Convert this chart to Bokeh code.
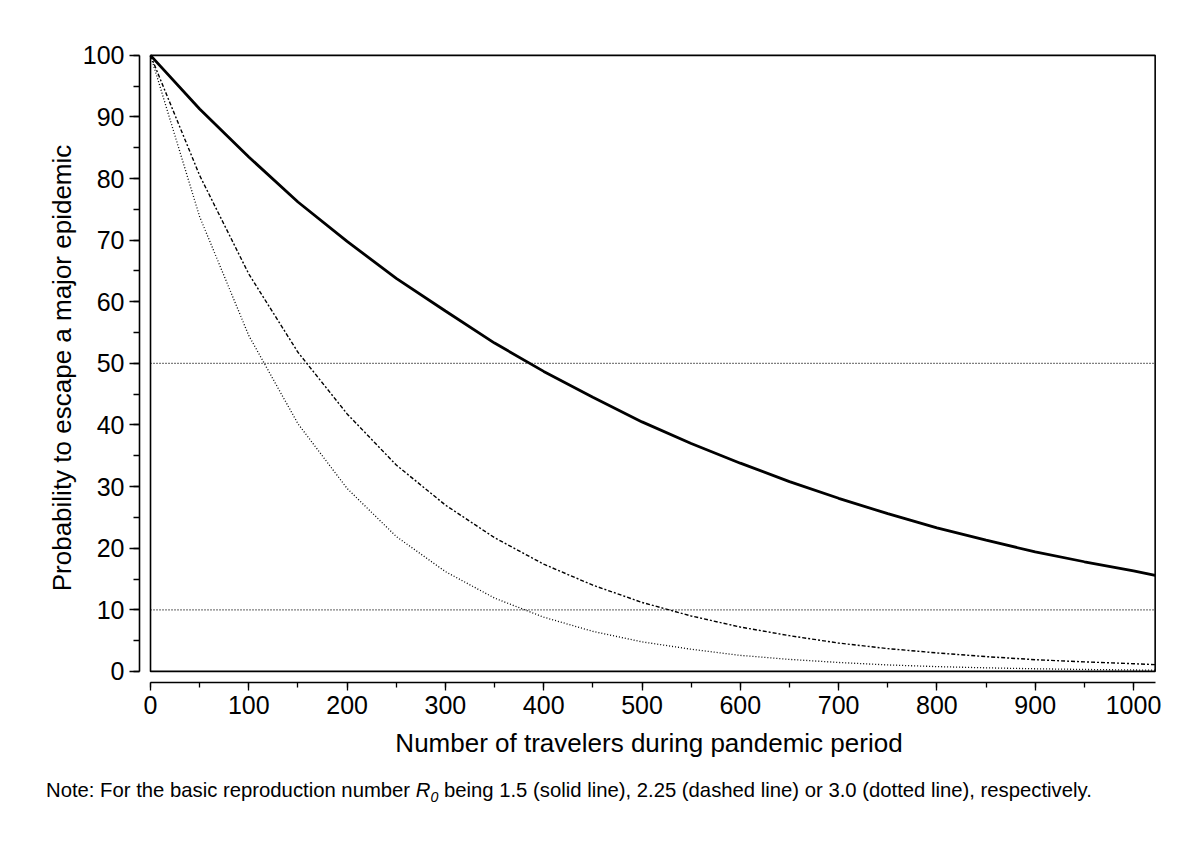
from bokeh.plotting import figure
from bokeh.models import Range1d, SingleIntervalTicker, Div, ColumnDataSource
from bokeh.layouts import column
from bokeh.embed import file_html
from bokeh.resources import INLINE

# Number of travelers during pandemic period
travelers = [0, 50, 100, 150, 200, 250, 300, 350, 400, 450, 500, 550, 600, 650,
             700, 750, 800, 850, 900, 950, 1000, 1022]
# Probability (%) to escape a major epidemic, R0 = 1.5 (solid)
p_r15 = [100, 91.3, 83.5, 76.2, 69.8, 63.8, 58.5, 53.3, 48.7, 44.5, 40.5, 37.0,
         33.8, 30.8, 28.1, 25.6, 23.3, 21.3, 19.4, 17.8, 16.3, 15.6]
# R0 = 2.25 (dash-dot)
p_r225 = [100, 80.5, 64.5, 51.8, 41.8, 33.5, 27.0, 21.7, 17.4, 14.0, 11.2, 9.0,
          7.2, 5.8, 4.6, 3.7, 3.0, 2.4, 1.9, 1.55, 1.25, 1.1]
# R0 = 3.0 (dotted)
p_r30 = [100, 73.8, 54.5, 40.2, 29.7, 21.9, 16.2, 11.9, 8.8, 6.5, 4.8, 3.6,
         2.6, 1.95, 1.45, 1.05, 0.78, 0.58, 0.43, 0.32, 0.23, 0.2]
ref_levels = [50, 10]
x_max = 1022
y_max = 100

FONT = "Liberation Sans"

p = figure(frame_width=1019, frame_height=629,
           x_range=Range1d(-11.2, 1025.4), y_range=Range1d(-1.8, 100.3),
           output_backend="svg", toolbar_location=None,
           min_border_left=139, min_border_top=53, min_border_right=20,
           min_border_bottom=88)
p.outline_line_color = None
p.grid.visible = False
p.background_fill_color = "white"
p.border_fill_color = "white"

# plotting box drawn in data space
p.quad(left=[0], right=[x_max], bottom=[0], top=[y_max],
       fill_color=None, line_color="black", line_width=1.6)

for lvl in ref_levels:
    p.line([0, x_max], [lvl, lvl], line_color="black", line_width=1.3,
           line_dash="1 2")

src = ColumnDataSource(dict(x=travelers, a=p_r15, b=p_r225, c=p_r30))
p.line("x", "a", source=src, line_color="black", line_width=2.8)
p.line("x", "b", source=src, line_color="black", line_width=1.4,
       line_dash="4 2 2 2")
p.line("x", "c", source=src, line_color="black", line_width=1.3,
       line_dash="1 2")

# axes
xa = p.xaxis[0]
xa.ticker = SingleIntervalTicker(interval=100, num_minor_ticks=2)
xa.bounds = (0, x_max)
xa.axis_label = "Number of travelers during pandemic period"
ya = p.yaxis[0]
ya.ticker = SingleIntervalTicker(interval=10, num_minor_ticks=2)
ya.bounds = (0, y_max)
ya.axis_label = "Probability to escape a major epidemic"

for ax in (xa, ya):
    ax.axis_line_color = "black"
    ax.axis_line_width = 1.6
    ax.major_tick_line_color = "black"
    ax.minor_tick_line_color = "black"
    ax.major_tick_line_width = 1.3
    ax.minor_tick_line_width = 1.3
    ax.major_tick_in = 0
    ax.minor_tick_in = 0
    ax.major_label_text_font = FONT
    ax.major_label_text_color = "black"
    ax.major_label_text_font_size = "25px"
    ax.axis_label_text_font = FONT
    ax.axis_label_text_font_style = "normal"
    ax.axis_label_text_color = "black"
    ax.major_label_standoff = 5

xa.major_tick_out = 8
xa.minor_tick_out = 5
ya.major_tick_out = 10
ya.minor_tick_out = 6
xa.axis_label_text_font_size = "26px"
ya.axis_label_text_font_size = "26px"
xa.axis_label_standoff = 11
ya.axis_label_standoff = 3

note = Div(text=('Note: For the basic reproduction number <i>R<sub style="font-size:70%">0</sub></i> '
                 'being 1.5 (solid line), 2.25 (dashed line) or 3.0 (dotted line), respectively.'),
           styles={"font-family": FONT, "font-size": "20.3px", "color": "black",
                   "white-space": "nowrap"},
           margin=(6, 0, 0, 46))

layout = column(p, note)
open("out.html", "w").write(file_html(layout, INLINE))
